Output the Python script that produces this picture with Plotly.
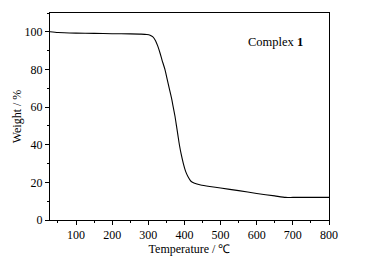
import plotly.graph_objects as go

temperature = [28, 50, 100, 150, 200, 250, 280, 296, 305, 312, 320, 326, 332, 338, 346, 352, 358, 364, 369, 374, 378, 382, 386, 391, 397, 403, 410, 418, 428, 445, 470, 500, 550, 600, 650, 680, 700, 800]
weight = [100, 99.6, 99.3, 99.15, 99.0, 98.9, 98.8, 98.6, 98.2, 97.4, 95.3, 92.5, 89, 85, 80, 75, 70, 65, 60, 55, 50, 45, 40, 35, 30, 26, 23, 20.6, 19.5, 18.6, 17.8, 17.0, 15.6, 14.1, 12.8, 12.0, 12.0, 12.0]

x_ticks = [100, 200, 300, 400, 500, 600, 700, 800]
y_ticks = [0, 20, 40, 60, 80, 100]

font_family = "Liberation Serif, Times New Roman, serif"

fig = go.Figure()
fig.add_trace(go.Scatter(x=temperature, y=weight, mode="lines",
                         line=dict(color="black", width=1.1, shape="spline", smoothing=0.6),
                         showlegend=False, hoverinfo="skip"))

axis_common = dict(showline=True, linecolor="black", linewidth=1, mirror=True,
                   showgrid=False, zeroline=False, ticks="outside", ticklen=4,
                   tickwidth=1, tickcolor="black", automargin=False,
                   tickfont=dict(family=font_family, size=12, color="black"))

fig.update_xaxes(range=[28, 800], tickvals=x_ticks,
                 minor=dict(ticks="outside", ticklen=2, tickwidth=1, tickcolor="black", dtick=50, tick0=0),
                 title=dict(text="Temperature / ℃", font=dict(family=font_family, size=12, color="black"), standoff=0),
                 **axis_common)
fig.update_yaxes(range=[0, 110], tickvals=y_ticks,
                 minor=dict(ticks="outside", ticklen=2, tickwidth=1, tickcolor="black", dtick=10, tick0=0),
                 title=dict(text="Weight / %", font=dict(family=font_family, size=12, color="black"), standoff=0),
                 **axis_common)

fig.add_annotation(x=0.807, y=0.859, xref="paper", yref="paper", showarrow=False,
                   xanchor="center", yanchor="middle",
                   text="Complex <b>1</b>", font=dict(family=font_family, size=12.5, color="black"))

fig.update_layout(width=386, height=258, margin=dict(l=49.5, r=57, t=12.7, b=38),
                  font=dict(family=font_family),
                  plot_bgcolor="white", paper_bgcolor="white")

fig.write_html("out.html", config={"displayModeBar": False},
               post_script="document.body.style.margin='0';document.body.style.overflow='hidden';")
